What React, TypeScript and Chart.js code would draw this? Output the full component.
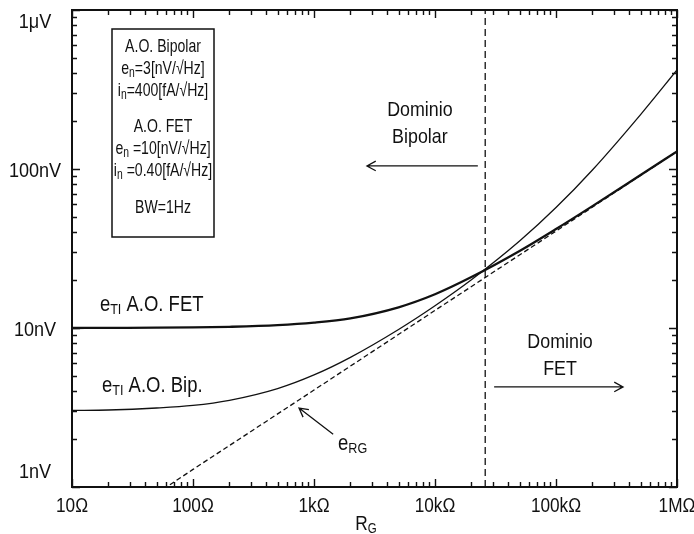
import { useEffect, useRef } from "react";
import { Chart, registerables } from "chart.js";

Chart.register(...registerables);

// Source resistance R_G (Ω) at which the total input noise curves are sampled
const resistanceOhm = [10, 20, 50, 100, 200, 500, 1000, 2000, 5000, 10000, 20000, 50000, 100000, 200000, 500000, 1000000];
// Total input-referred noise e_TI (nV, BW = 1 Hz)
const etiFetNv = [10.0, 10.02, 10.04, 10.08, 10.17, 10.41, 10.8, 11.5, 13.5, 16.3, 20.9, 30.5, 41.9, 58.4, 91.6, 129];
const etiBipNv = [3.03, 3.05, 3.14, 3.26, 3.51, 4.16, 5.07, 6.54, 9.79, 13.8, 20.1, 35.2, 57.2, 98.6, 220, 420];
// Thermal noise of the source resistor, e_RG (nV)
const thermalOhm = [50, 100, 1000, 10000, 100000, 1000000];
const ergNv = [0.91, 1.29, 4.07, 12.9, 40.7, 129];
// Resistance where both amplifiers give the same noise
const boundaryOhm = 26000;

const xTickOhm = [10, 100, 1000, 10000, 100000, 1000000];
const xTickLabels = ["10Ω", "100Ω", "1kΩ", "10kΩ", "100kΩ", "1MΩ"];
const yTickNv = [1, 10, 100, 1000];
const yTickLabels = ["1nV", "10nV", "100nV", "1μV"];

const INK = "#111111";
const FONT = '"Liberation Sans", Arial, sans-serif';

type Run = { t: string; sub?: boolean };

function runsWidth(ctx: CanvasRenderingContext2D, runs: Run[], size: number, subSize: number, sx: number) {
  let w = 0;
  for (const r of runs) {
    ctx.font = `${r.sub ? subSize : size}px ${FONT}`;
    w += ctx.measureText(r.t).width;
  }
  return w * sx;
}

// Draws text with subscripts, horizontally compressed by sx for a narrow face
function drawRuns(
  ctx: CanvasRenderingContext2D,
  runs: Run[],
  x: number,
  y: number,
  size: number,
  subSize: number,
  sx: number,
  align: "left" | "center",
  baseline: CanvasTextBaseline = "alphabetic"
) {
  const total = runsWidth(ctx, runs, size, subSize, sx);
  let cx = align === "center" ? x - total / 2 : x;
  ctx.textAlign = "left";
  ctx.textBaseline = baseline;
  for (const r of runs) {
    ctx.font = `${r.sub ? subSize : size}px ${FONT}`;
    const w = ctx.measureText(r.t).width;
    ctx.save();
    ctx.translate(cx, r.sub ? y + size * 0.14 : y);
    ctx.scale(sx, 1);
    ctx.fillText(r.t, 0, 0);
    ctx.restore();
    cx += w * sx;
  }
}

function label(ctx: CanvasRenderingContext2D, s: string, x: number, y: number, size: number, sx: number) {
  drawRuns(ctx, [{ t: s }], x, y, size, size, sx, "center", "middle");
}

function arrow(ctx: CanvasRenderingContext2D, x0: number, y0: number, x1: number, y1: number) {
  const ang = Math.atan2(y1 - y0, x1 - x0);
  const head = 10;
  const spread = 0.5;
  ctx.beginPath();
  ctx.moveTo(x0, y0);
  ctx.lineTo(x1, y1);
  ctx.moveTo(x1 - head * Math.cos(ang - spread), y1 - head * Math.sin(ang - spread));
  ctx.lineTo(x1, y1);
  ctx.lineTo(x1 - head * Math.cos(ang + spread), y1 - head * Math.sin(ang + spread));
  ctx.stroke();
}

const decorPlugin = {
  id: "noiseDecor",
  afterDraw(chart: any) {
    const { ctx, chartArea: a, scales } = chart;
    const xs = scales.x;
    const ys = scales.y;
    const X = (v: number) => xs.getPixelForValue(v);
    const Y = (v: number) => ys.getPixelForValue(v);
    ctx.save();
    ctx.strokeStyle = INK;
    ctx.fillStyle = INK;

    // frame
    ctx.lineWidth = 2;
    ctx.strokeRect(a.left, a.top, a.right - a.left, a.bottom - a.top);

    // inward log ticks on all four sides
    ctx.lineWidth = 1.4;
    ctx.beginPath();
    for (let d = xs.min; d < xs.max * 1.001; d *= 10) {
      for (let m = 1; m <= 9; m++) {
        const v = d * m;
        if (v > xs.max * 1.001) break;
        const len = m === 1 ? 8 : 5;
        const x = Math.round(X(v)) + 0.5;
        ctx.moveTo(x, a.bottom);
        ctx.lineTo(x, a.bottom - len);
        ctx.moveTo(x, a.top);
        ctx.lineTo(x, a.top + len);
      }
    }
    for (let d = ys.min; d < ys.max * 1.001; d *= 10) {
      for (let m = 1; m <= 9; m++) {
        const v = d * m;
        if (v > ys.max * 1.001) break;
        const len = m === 1 ? 8 : 5;
        const y = Math.round(Y(v)) + 0.5;
        ctx.moveTo(a.left, y);
        ctx.lineTo(a.left + len, y);
        ctx.moveTo(a.right, y);
        ctx.lineTo(a.right - len, y);
      }
    }
    ctx.stroke();

    // tick labels
    xTickOhm.forEach((v, i) => label(ctx, xTickLabels[i], X(v), a.bottom + 19, 21, 0.82));
    yTickNv.forEach((v, i) => {
      const y = Math.min(Math.max(Y(v) + 2, a.top + 12), a.bottom - 15);
      label(ctx, yTickLabels[i], 35, y, 21, 0.86);
    });
    // axis title R_G
    drawRuns(ctx, [{ t: "R" }, { t: "G", sub: true }], 366, 530, 21, 14, 0.82, "center");

    // parameter box
    const bx0 = 112, bx1 = 214, by0 = 29, by1 = 237;
    ctx.lineWidth = 1.5;
    ctx.strokeRect(bx0, by0, bx1 - bx0, by1 - by0);
    const cx = (bx0 + bx1) / 2;
    const boxLines: [Run[], number][] = [
      [[{ t: "A.O. Bipolar" }], 52],
      [[{ t: "e" }, { t: "n", sub: true }, { t: "=3[nV/√Hz]" }], 74],
      [[{ t: "i" }, { t: "n", sub: true }, { t: "=400[fA/√Hz]" }], 96],
      [[{ t: "A.O. FET" }], 132],
      [[{ t: "e" }, { t: "n", sub: true }, { t: " =10[nV/√Hz]" }], 154],
      [[{ t: "i" }, { t: "n", sub: true }, { t: " =0.40[fA/√Hz]" }], 176],
      [[{ t: "BW=1Hz" }], 213],
    ];
    boxLines.forEach(([runs, y]) => drawRuns(ctx, runs, cx, y, 19, 14, 0.74, "center"));

    // curve labels
    drawRuns(ctx, [{ t: "e" }, { t: "TI", sub: true }, { t: " A.O. FET" }], X(17), Y(12.8), 22, 15, 0.84, "left");
    drawRuns(ctx, [{ t: "e" }, { t: "TI", sub: true }, { t: " A.O. Bip." }], X(17.7), Y(3.96), 22, 15, 0.84, "left");
    drawRuns(ctx, [{ t: "e" }, { t: "RG", sub: true }], X(1580), Y(1.71), 22, 15, 0.84, "left");

    // domain annotations
    label(ctx, "Dominio", X(7500), Y(235), 21, 0.85);
    label(ctx, "Bipolar", X(7500), Y(159), 21, 0.85);
    label(ctx, "Dominio", X(108000), Y(8.17), 21, 0.85);
    label(ctx, "FET", X(108000), Y(5.52), 21, 0.85);

    ctx.lineWidth = 1.3;
    arrow(ctx, X(22600), Y(104.5), X(2740), Y(104.5));
    arrow(ctx, X(30800), Y(4.26), X(358000), Y(4.26));
    arrow(ctx, X(1440), Y(2.15), X(752), Y(3.14));

    ctx.restore();
  },
};

export default function App() {
  const canvasRef = useRef<HTMLCanvasElement | null>(null);

  useEffect(() => {
    const canvas = canvasRef.current;
    if (!canvas) return;
    const pts = (xs: number[], ys: number[]) => xs.map((x, i) => ({ x, y: ys[i] }));
    const chart = new Chart(canvas, {
      type: "line",
      data: {
        datasets: [
          {
            label: "eTI A.O. FET",
            data: pts(resistanceOhm, etiFetNv),
            borderColor: INK,
            borderWidth: 2.3,
            pointRadius: 0,
            cubicInterpolationMode: "monotone",
          },
          {
            label: "eTI A.O. Bip.",
            data: pts(resistanceOhm, etiBipNv),
            borderColor: INK,
            borderWidth: 1.3,
            pointRadius: 0,
            cubicInterpolationMode: "monotone",
          },
          {
            label: "eRG",
            data: pts(thermalOhm, ergNv),
            borderColor: INK,
            borderWidth: 1.3,
            borderDash: [5, 3],
            pointRadius: 0,
          },
          {
            label: "Frontera",
            data: [
              { x: boundaryOhm, y: 1 },
              { x: boundaryOhm, y: 1000 },
            ],
            borderColor: INK,
            borderWidth: 1.3,
            borderDash: [7, 4],
            pointRadius: 0,
          },
        ],
      },
      options: {
        responsive: false,
        animation: false,
        devicePixelRatio: 1,
        layout: { padding: { left: 72, right: 17, top: 10, bottom: 47 } },
        plugins: { legend: { display: false }, tooltip: { enabled: false } },
        scales: {
          x: { type: "logarithmic", min: 10, max: 1000000, display: false },
          y: { type: "logarithmic", min: 1, max: 1000, display: false },
        },
      },
      plugins: [decorPlugin],
    });
    return () => chart.destroy();
  }, []);

  return (
    <div style={{ position: "absolute", left: 0, top: 0, width: 694, height: 534, background: "#ffffff" }}>
      <canvas ref={canvasRef} width={694} height={534} />
    </div>
  );
}
